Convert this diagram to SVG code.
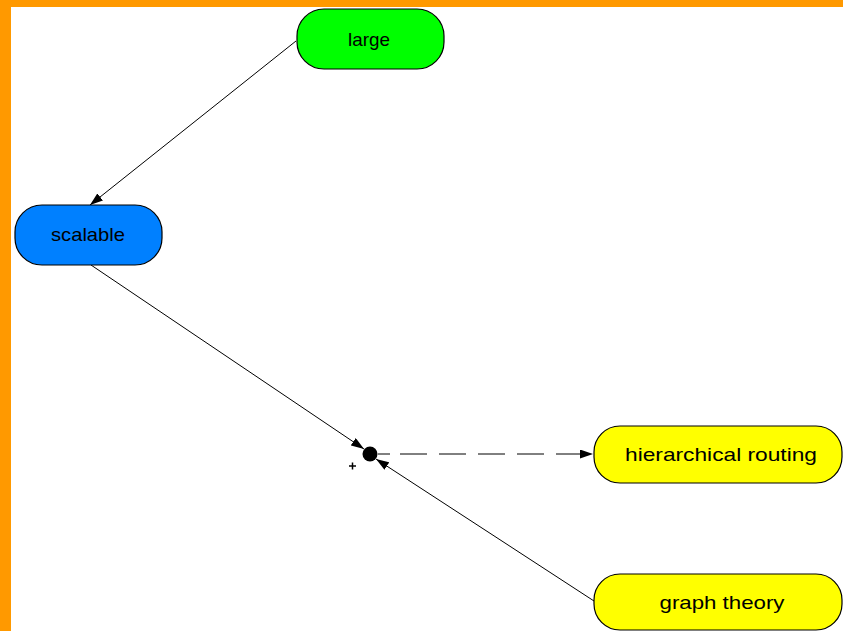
<svg xmlns="http://www.w3.org/2000/svg" width="843" height="631" viewBox="0 0 843 631">
<defs>
<style>
.node{stroke:#000;stroke-width:1.2}
.lbl{font-family:"Liberation Sans",Arial,sans-serif;font-size:19px;fill:#000;text-anchor:middle}
.edge{stroke:#000;stroke-width:1;fill:none}
</style>
<marker id="arr" viewBox="0 0 13 9" refX="13" refY="4.5" markerWidth="13" markerHeight="9" markerUnits="userSpaceOnUse" orient="auto">
<path d="M0,0 L13,4.5 L0,9 Z" fill="#000"/>
</marker>
</defs>
<rect x="0" y="0" width="843" height="631" fill="#FF9900"/>
<rect x="11" y="7" width="832" height="624" fill="#FFFFFF"/>
<g id="connectors">
<line class="edge" x1="296" y1="41" x2="90" y2="205" marker-end="url(#arr)"/>
<line class="edge" x1="91" y1="265" x2="364" y2="449" marker-end="url(#arr)"/>
<line class="edge" x1="594" y1="601" x2="376" y2="459" marker-end="url(#arr)"/>
<line class="edge" x1="378" y1="454" x2="593" y2="454" stroke-dasharray="12 10 27 12 27 12 27 12 27 12 27 12 27 12" marker-end="url(#arr)"/>
<circle cx="370" cy="454" r="7.5" fill="#000"/>
<path d="M349,466 h7 M352.5,462.5 v7" stroke="#000" stroke-width="1.5"/>
</g>
<g id="large">
<rect class="node" x="297" y="9" width="147" height="60" rx="27" ry="27" fill="#00FF00"/>
<text class="lbl" x="369" y="46" textLength="42" lengthAdjust="spacingAndGlyphs">large</text>
</g>
<g id="scalable">
<rect class="node" x="15" y="205" width="147" height="60" rx="27" ry="27" fill="#0080FF"/>
<text class="lbl" x="88" y="241" textLength="74" lengthAdjust="spacingAndGlyphs">scalable</text>
</g>
<g id="hierarchical-routing">
<rect class="node" x="594" y="426" width="248" height="57" rx="26" ry="26" fill="#FFFF00"/>
<text class="lbl" x="721" y="461" textLength="192" lengthAdjust="spacingAndGlyphs">hierarchical routing</text>
</g>
<g id="graph-theory">
<rect class="node" x="594" y="574" width="248" height="56" rx="26" ry="26" fill="#FFFF00"/>
<text class="lbl" x="722" y="609" textLength="125" lengthAdjust="spacingAndGlyphs">graph theory</text>
</g>
</svg>
